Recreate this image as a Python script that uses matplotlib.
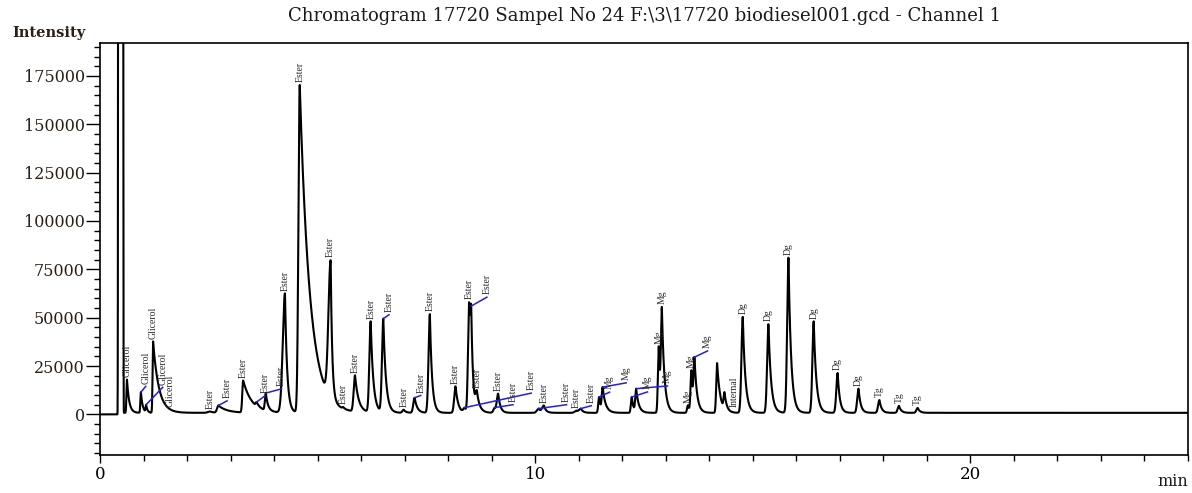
import numpy as np
import matplotlib
matplotlib.use('Agg')
import matplotlib.pyplot as plt
from matplotlib.ticker import MultipleLocator

# peaks: retention time (min), apex intensity, name
peak_times = [0.62, 0.94, 1.06, 1.22, 1.60,
              2.53, 2.72, 3.29, 3.60, 3.81, 4.25, 4.59, 5.30, 5.59, 5.86,
              6.22, 6.51, 6.98, 7.23, 7.58, 8.17, 8.38, 8.48, 8.53, 8.66,
              9.07, 9.15, 10.08, 10.20, 10.95, 11.05,
              11.47, 11.55, 12.22, 12.32, 12.84, 12.91, 13.51, 13.59, 13.66,
              14.18, 14.35, 14.77, 15.36, 15.82, 16.40, 16.95, 17.43,
              17.91, 18.36, 18.79, 19.17]
peak_heights = [18000, 11500, 5000, 37700, 2500,
                1500, 4600, 17500, 6400, 11000, 62600, 170300, 79700, 3800, 20200,
                48100, 49500, 2400, 8600, 51800, 14500, 3500, 58000, 56000, 12400,
                3500, 10700, 3000, 4600, 2000, 3000,
                9000, 14100, 9000, 13300, 35200, 55500, 4700, 22800, 29600,
                26500, 11500, 50400, 46600, 81000, 48100, 21400, 13300,
                7400, 4400, 3300, 900]
peak_labels = ['Glicerol'] * 5 + ['Ester'] * 26 + ['Mg'] * 9 + \
              ['', 'Internal'] + ['Dg'] * 6 + ['Tg'] * 3 + ['']
# rise (gaussian sigma) and tail (exponential decay), minutes
peak_rise = [0.012, 0.012, 0.012, 0.012, 0.03,
             0.05, 0.03, 0.02, 0.02, 0.02, 0.05, 0.03, 0.05, 0.02, 0.03,
             0.03, 0.03, 0.03, 0.03, 0.03, 0.03, 0.03, 0.025, 0.025, 0.03,
             0.03, 0.03, 0.04, 0.04, 0.04, 0.04,
             0.02, 0.02, 0.02, 0.02, 0.02, 0.02, 0.02, 0.02, 0.02,
             0.02, 0.02, 0.03, 0.03, 0.03, 0.03, 0.03, 0.03,
             0.03, 0.03, 0.03, 0.05]
peak_tail = [0.05, 0.04, 0.03, 0.13, 0.08,
             0.08, 0.2, 0.2, 0.06, 0.05, 0.05, 0.23, 0.035, 0.04, 0.08,
             0.06, 0.06, 0.05, 0.06, 0.05, 0.06, 0.05, 0.04, 0.04, 0.07,
             0.05, 0.05, 0.05, 0.05, 0.05, 0.05,
             0.04, 0.07, 0.04, 0.06, 0.04, 0.06, 0.04, 0.04, 0.06,
             0.07, 0.05, 0.06, 0.06, 0.06, 0.06, 0.05, 0.05,
             0.05, 0.05, 0.05, 0.08]

# solvent peak runs off scale between these times
solvent_start, solvent_end = 0.415, 0.535
baseline_before, baseline_after = 0, 800

# labels that sit away from their peak: index -> (time, intensity, leader line)
label_moves = {1: (1.05, 14500, True), 2: (1.44, 14000, True), 6: (2.92, 7000, True),
               8: (3.79, 9600, True), 9: (4.17, 13200, True), 16: (6.64, 51500, True),
               18: (7.37, 9800, True), 21: (9.91, 11000, True), 23: (8.89, 60600, True),
               25: (9.49, 5000, True), 27: (10.72, 5000, True), 30: (11.29, 4500, True),
               31: (11.71, 11500, True), 32: (12.09, 16300, True), 33: (12.58, 11600, True),
               34: (13.04, 14700, True), 39: (13.96, 32800, True), 41: (14.57, 2200, False)}


def peak_shape(t, t0, rise, tail):
    dt = t - t0
    return np.where(dt < 0, np.exp(-0.5 * (dt / rise) ** 2),
                    np.exp(-np.clip(dt, 0, None) / tail))


t = np.linspace(0, 25, 15001)
pt = np.array(peak_times)
# amplitudes so that the summed trace hits the read apex heights
M = np.array([[peak_shape(ti, t0, r, tl) for t0, r, tl in zip(peak_times, peak_rise, peak_tail)]
              for ti in pt])
amps = np.clip(np.linalg.solve(M, np.array(peak_heights) - baseline_after), 0, None)

signal = np.where(t < solvent_start, baseline_before, baseline_after).astype(float)
mid = (solvent_start + solvent_end) / 2
signal += 1e6 * np.exp(-((t - mid) / ((solvent_end - solvent_start) / 2.1)) ** 8)
for a, t0, r, tl in zip(amps, peak_times, peak_rise, peak_tail):
    signal += a * peak_shape(t, t0, r, tl)

fig = plt.figure(figsize=(11.92, 4.93), dpi=100)
ax = fig.add_axes([100 / 1192, 38 / 493, 1088 / 1192, 412 / 493])
ax.plot(t, signal, color='black', lw=1.5)

serif = 'DejaVu Serif'
for i, (pt0, ph, lab) in enumerate(zip(peak_times, peak_heights, peak_labels)):
    if not lab:
        continue
    if i in label_moves:
        lx, ly, leader = label_moves[i]
        if leader:
            ax.plot([pt0, lx], [ph, ly], color='#1f1fe6', lw=1.1)
    else:
        lx, ly = pt0, ph
    ax.annotate(lab, (lx, ly), xytext=(0, 2), textcoords='offset points',
                rotation=90, ha='center', va='bottom', fontsize=7,
                family='Liberation Serif', color='#2a2a2a')

ax.set_xlim(0, 25)
ax.set_ylim(-21000, 192000)
ax.xaxis.set_major_locator(MultipleLocator(10))
ax.xaxis.set_minor_locator(MultipleLocator(1))
ax.yaxis.set_major_locator(MultipleLocator(25000))
ax.yaxis.set_minor_locator(MultipleLocator(5000))
ax.tick_params(axis='y', which='major', direction='out', length=10, width=1, pad=1,
               labelsize=11.5, labelcolor='#2a1f14')
ax.tick_params(axis='y', which='minor', direction='out', length=4, width=1)
ax.tick_params(axis='x', which='major', direction='out', length=6, width=1, pad=2,
               labelsize=12)
ax.tick_params(axis='x', which='minor', direction='out', length=4, width=1)
for lbl in ax.get_xticklabels() + ax.get_yticklabels():
    lbl.set_family(serif)
for sp in ax.spines.values():
    sp.set_linewidth(1.2)

fig.text(644 / 1192, 1 - 16 / 493,
         'Chromatogram 17720 Sampel No 24 F:\\3\\17720 biodiesel001.gcd - Channel 1',
         ha='center', va='center', fontsize=13, family=serif, color='#1a1a1a')
fig.text(12 / 1192, 1 - 33 / 493, 'Intensity', ha='left', va='center',
         fontsize=10.5, fontweight='bold', family=serif, color='#2a1f14')
fig.text(1188 / 1192, 3 / 493, 'min', ha='right', va='bottom',
         fontsize=11.5, family=serif, color='#1a1a1a')

fig.savefig('out.png', dpi=100)
